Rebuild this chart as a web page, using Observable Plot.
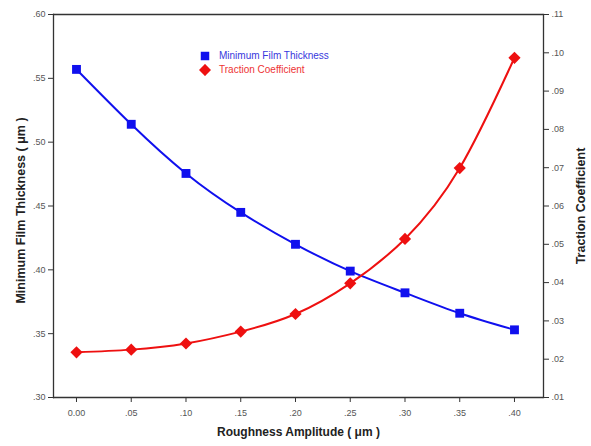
<!DOCTYPE html>
<html>
<head>
<meta charset="utf-8">
<script src="https://cdn.jsdelivr.net/npm/d3@7"></script>
<script src="https://cdn.jsdelivr.net/npm/@observablehq/plot@0.6"></script>
<style>
  body { margin: 0; background: #fff; }
  #wrap { position: relative; width: 591px; height: 446px; font-family: "Liberation Sans", Arial, sans-serif; }
  #legend { position: absolute; left: 199px; top: 49px; font-size: 10px; line-height: 14px; }
  #legend div { display: flex; align-items: center; }
  #legend svg { margin-right: 8px; }
</style>
</head>
<body>
<div id="wrap">
  <div id="chart"></div>
  <div id="legend"></div>
</div>
<script>
// Data
const roughness = [0.00, 0.05, 0.10, 0.15, 0.20, 0.25, 0.30, 0.35, 0.40];
const filmThickness = [0.557, 0.514, 0.4755, 0.445, 0.420, 0.399, 0.382, 0.366, 0.353];
const tractionCoef = [0.0218, 0.0225, 0.0241, 0.0272, 0.0318, 0.0398, 0.0514, 0.0699, 0.0987];
const xTicks = [0.00, 0.05, 0.10, 0.15, 0.20, 0.25, 0.30, 0.35, 0.40];
const leftTicks = [0.30, 0.35, 0.40, 0.45, 0.50, 0.55, 0.60];
const rightTicks = [0.01, 0.02, 0.03, 0.04, 0.05, 0.06, 0.07, 0.08, 0.09, 0.10, 0.11];
const seriesNames = ["Minimum Film Thickness", "Traction Coefficient"];
const seriesColors = ["#1010ee", "#ee1010"];

// map right axis (traction) into left-axis units
const leftDomain = [0.30, 0.60];
const rightDomain = [0.01, 0.11];
const toLeft = v => leftDomain[0] + (v - rightDomain[0]) * (leftDomain[1] - leftDomain[0]) / (rightDomain[1] - rightDomain[0]);
const fromLeft = v => rightDomain[0] + (v - leftDomain[0]) * (rightDomain[1] - rightDomain[0]) / (leftDomain[1] - leftDomain[0]);

const fmt = d => d === 0 ? "0.00" : d3.format(".2f")(d).replace(/^0/, "");

const blue = roughness.map((x, i) => ({x, y: filmThickness[i]}));
const red = roughness.map((x, i) => ({x, y: toLeft(tractionCoef[i])}));

const axisColor = "#333";
const tickText = "#555";

const chart = Plot.plot({
  width: 591,
  height: 446,
  marginLeft: 53,
  marginRight: 48,
  marginTop: 14,
  marginBottom: 49,
  style: {fontFamily: "'Liberation Sans', Arial, sans-serif", fontSize: "9px", background: "#fff"},
  x: {domain: [-0.021, 0.4265]},
  y: {domain: leftDomain},
  marks: [
    Plot.ruleY([leftDomain[1]], {stroke: axisColor, strokeWidth: 1.3}),
    Plot.ruleY([leftDomain[0]], {stroke: axisColor, strokeWidth: 1.3}),
    Plot.frame({anchor: "left", stroke: axisColor, strokeWidth: 1.3}),
    Plot.frame({anchor: "right", stroke: axisColor, strokeWidth: 1.3}),
    Plot.axisX({ticks: xTicks, tickFormat: fmt, tickSize: 5, tickPadding: 7, stroke: axisColor, color: tickText, label: null}),
    Plot.axisY({anchor: "left", ticks: leftTicks, tickFormat: fmt, tickSize: 5, tickPadding: 3, stroke: axisColor, color: tickText, label: null}),
    Plot.axisY({anchor: "right", ticks: rightTicks.map(toLeft), tickFormat: d => fmt(Math.round(fromLeft(d) * 100) / 100), tickSize: 5, tickPadding: 3, stroke: axisColor, color: tickText, label: null}),
    Plot.line(blue, {x: "x", y: "y", curve: "natural", stroke: seriesColors[0], strokeWidth: 2}),
    Plot.line(red, {x: "x", y: "y", curve: "natural", stroke: seriesColors[1], strokeWidth: 2}),
    Plot.dot(blue, {x: "x", y: "y", symbol: "square", r: 5, fill: seriesColors[0], stroke: "none"}),
    Plot.dot(red, {x: "x", y: "y", symbol: "diamond2", r: 5.5, fill: seriesColors[1], stroke: "none"}),
    Plot.text(["Roughness Amplitude ( μm )"], {frameAnchor: "bottom", dy: 38, fontSize: 12, fontWeight: "bold", fill: "#222"}),
    Plot.text(["Minimum Film Thickness ( μm )"], {frameAnchor: "left", textAnchor: "middle", dx: -33, dy: 4.5, rotate: -90, fontSize: 12.5, fontWeight: "bold", fill: "#222"}),
    Plot.text(["Traction Coefficient"], {frameAnchor: "right", textAnchor: "middle", dx: 37, dy: 0, rotate: -90, fontSize: 12.5, fontWeight: "bold", fill: "#222"})
  ]
});
document.getElementById("chart").appendChild(chart);

// legend
const legend = document.getElementById("legend");
seriesNames.forEach((name, i) => {
  const row = document.createElement("div");
  const sym = d3.create("svg").attr("width", 12).attr("height", 12);
  sym.append("path")
    .attr("transform", "translate(6,6)")
    .attr("d", d3.symbol(i === 0 ? d3.symbolSquare : d3.symbolDiamond2, i === 0 ? 72 : 95)())
    .attr("fill", seriesColors[i]);
  row.appendChild(sym.node());
  const span = document.createElement("span");
  span.textContent = name;
  span.style.color = i === 0 ? "#3838dd" : "#ee3333";
  row.appendChild(span);
  legend.appendChild(row);
});
</script>
</body>
</html>
